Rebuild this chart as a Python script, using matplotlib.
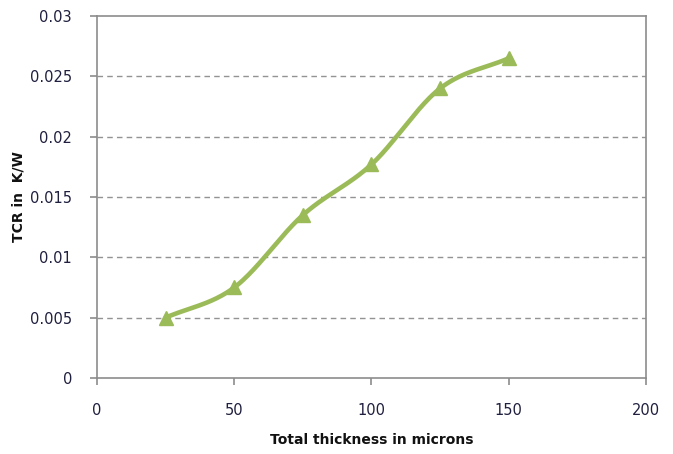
import numpy as np
import matplotlib
matplotlib.use("Agg")
import matplotlib.pyplot as plt

thickness = [25, 50, 75, 100, 125, 150]
tcr = [0.005, 0.0075, 0.0135, 0.0177, 0.024, 0.0265]

x_ticks = [0, 50, 100, 150, 200]
y_ticks = [0, 0.005, 0.01, 0.015, 0.02, 0.025, 0.03]
y_tick_labels = ["0", "0.005", "0.01", "0.015", "0.02", "0.025", "0.03"]

line_color = "#9BBB59"
frame_color = "#8C8C8C"


def smooth_curve(xs, ys, n=40):
    """Catmull-Rom style smoothing through every point (spreadsheet-like smoothed line)."""
    xs = np.asarray(xs, float)
    ys = np.asarray(ys, float)
    px = np.concatenate([[2 * xs[0] - xs[1]], xs, [2 * xs[-1] - xs[-2]]])
    py = np.concatenate([[2 * ys[0] - ys[1]], ys, [2 * ys[-1] - ys[-2]]])
    out_x, out_y = [], []
    t = np.linspace(0, 1, n)
    for i in range(1, len(px) - 2):
        p0, p1, p2, p3 = (np.array([px[j], py[j]]) for j in range(i - 1, i + 3))
        tension = 0.5
        m1 = (p2 - p0) * tension
        m2 = (p3 - p1) * tension
        h00 = 2 * t**3 - 3 * t**2 + 1
        h10 = t**3 - 2 * t**2 + t
        h01 = -2 * t**3 + 3 * t**2
        h11 = t**3 - t**2
        seg = (np.outer(h00, p1) + np.outer(h10, m1) + np.outer(h01, p2) + np.outer(h11, m2))
        out_x.extend(seg[:, 0])
        out_y.extend(seg[:, 1])
    return np.array(out_x), np.array(out_y)


plt.rcParams["font.family"] = ["DejaVu Sans"]

fig = plt.figure(figsize=(6.73, 4.54), dpi=100)
ax = fig.add_axes([0.144, 0.1674, 0.816, 0.7974])

sx, sy = smooth_curve(thickness, tcr)
ax.plot(sx, sy, color=line_color, linewidth=3.3, solid_capstyle="round", zorder=3)
ax.plot(thickness, tcr, linestyle="none", marker="^", markersize=10.5,
        color=line_color, zorder=4)

ax.set_xlim(0, 200)
ax.set_ylim(0, 0.03)
ax.set_xticks(x_ticks)
ax.set_yticks(y_ticks)
ax.set_yticklabels(y_tick_labels)

for y in y_ticks[1:-1]:
    ax.axhline(y, color="#939393", linewidth=1.0, linestyle=(0, (4, 3)), zorder=1)

for s in ax.spines.values():
    s.set_color(frame_color)
    s.set_linewidth(1.2)

ax.tick_params(axis="both", colors=frame_color, labelcolor="#1F1F3F",
               labelsize=10.5, length=5, width=1.2, direction="out")
ax.tick_params(axis="x", pad=13)
ax.tick_params(axis="y", pad=13)

ax.set_xlabel("Total thickness in microns", fontsize=10, fontweight="bold",
              color="#111111", labelpad=11)
ax.set_ylabel("TCR in  K/W", fontsize=10, fontweight="bold",
              color="#111111", labelpad=3)

fig.savefig("out.png", dpi=100, facecolor="white")
